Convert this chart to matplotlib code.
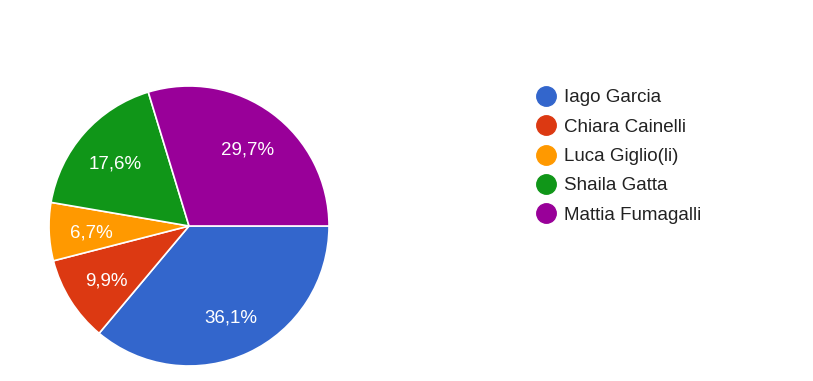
import matplotlib.pyplot as plt
import matplotlib.transforms as mtransforms
from matplotlib.lines import Line2D

names = ['Iago Garcia', 'Chiara Cainelli', 'Luca Giglio(li)', 'Shaila Gatta', 'Mattia Fumagalli']
shares = [36.1, 9.9, 6.7, 17.6, 29.7]
colors = ['#3366cc', '#dc3912', '#ff9900', '#109618', '#990099']

plt.rcParams['font.family'] = ['Liberation Sans', 'DejaVu Sans']

fig = plt.figure(figsize=(8.13, 3.81), dpi=100)
ax = fig.add_axes([0.0603, 0.0394, 0.3444, 0.7349])

wedges, texts, autotexts = ax.pie(
    shares, colors=colors, startangle=0, counterclock=False,
    autopct=lambda p: f'{p:.1f}%'.replace('.', ','), pctdistance=0.7,
    wedgeprops=dict(edgecolor='white', linewidth=1.2),
    textprops=dict(color='white', fontsize=13.5))
ax.set_xlim(-1, 1)
ax.set_ylim(-1, 1)
ax.set_aspect('equal')

# labels sit a few pixels lower in the original
shift = mtransforms.ScaledTranslation(0, -3 / 100, fig.dpi_scale_trans)
for t in autotexts:
    t.set_transform(t.get_transform() + shift)

# legend drawn by hand to match the row spacing
y0 = 1 - 96 / 381
dy = 29.3 / 381
for i, (name, c) in enumerate(zip(names, colors)):
    y = y0 - i * dy
    fig.add_artist(Line2D([546 / 813], [y], marker='o', markersize=14,
                          color=c, transform=fig.transFigure))
    fig.text(564 / 813, y - 2 / 381, name, fontsize=13.5, color='#222222', va='center')

fig.savefig('out.png', dpi=100)
